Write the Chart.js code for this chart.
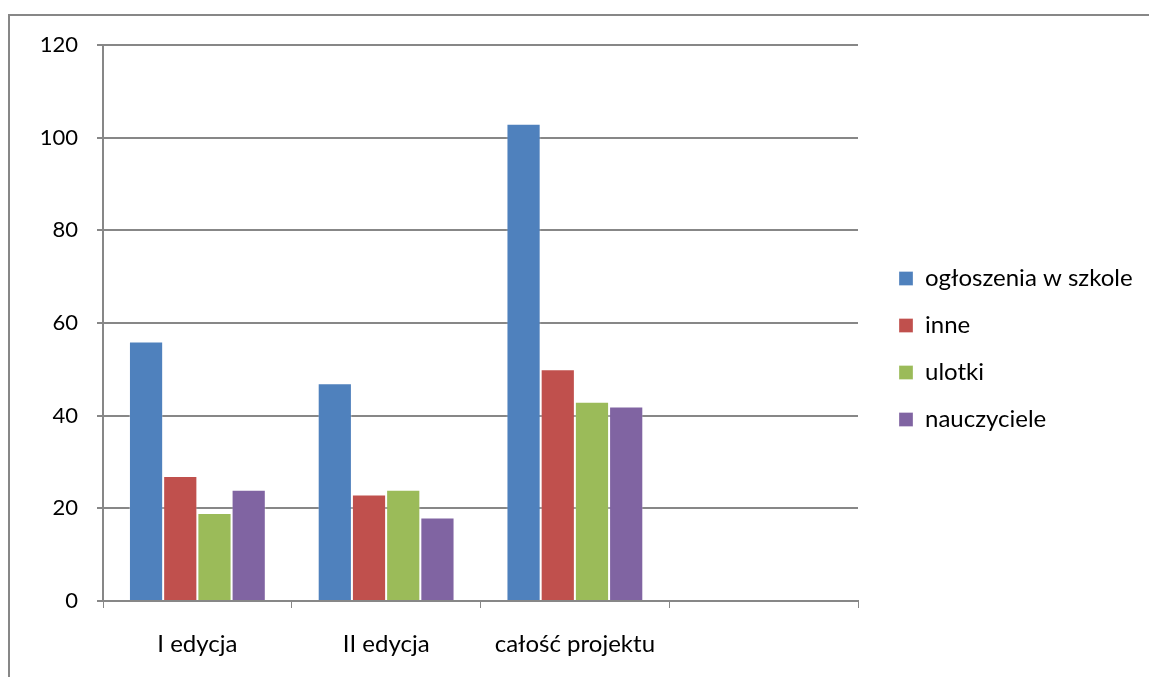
<!DOCTYPE html>
<html>
<head>
<meta charset="utf-8">
<script src="https://cdn.jsdelivr.net/npm/chart.js@4"></script>
<style>
  html, body { margin: 0; padding: 0; background: #fff; overflow: hidden; }
  #wrap { position: relative; width: 1149px; height: 677px; }
  #frame { position: absolute; left: 8px; top: 14px; right: -10px; bottom: -10px;
           border-top: 2px solid #878787; border-left: 2px solid #878787; pointer-events: none; }
  canvas { position: absolute; left: 0; top: 0; }
</style>
</head>
<body>
<div id="wrap">
  <canvas id="chart" width="1149" height="677"></canvas>
  <div id="frame"></div>
</div>
<script>
// categories (4th slot is empty in the original)
const categories = ['I edycja', 'II edycja', 'całość projektu', ''];
const seriesNames = ['ogłoszenia w szkole', 'inne', 'ulotki', 'nauczyciele'];
const ogloszenia = [56, 47, 103, null];
const inne = [27, 23, 50, null];
const ulotki = [19, 24, 43, null];
const nauczyciele = [24, 18, 42, null];
const colors = ['#4F81BD', '#C0504D', '#9BBB59', '#8064A2'];

const gridColor = '#878787';
const family = 'Lato, "Noto Sans", sans-serif';
const numFont = { family: family, size: 22 };
const textFont = { family: family, size: 24 };

// fixed legend width, then nudge it so items sit where the original's do
const legendFix = {
  id: 'legendFix',
  beforeLayout(chart) {
    const lg = chart.legend;
    if (lg && !lg._fixed) {
      const fit = lg.fit;
      lg.fit = function () { fit.call(this); this.width = 291; };
      lg._fixed = true;
    }
  },
  afterLayout(chart) {
    const lg = chart.legend;
    if (lg) {
      lg.left += 18; lg.right += 18;
      lg.top -= 12; lg.bottom -= 12;
    }
  }
};

const ctx = document.getElementById('chart').getContext('2d');
new Chart(ctx, {
  type: 'bar',
  data: {
    labels: categories,
    datasets: [ogloszenia, inne, ulotki, nauczyciele].map((d, i) => ({
      label: seriesNames[i],
      data: d,
      backgroundColor: colors[i],
      borderColor: 'rgba(255,255,255,0.3)',
      borderWidth: 1,
      categoryPercentage: 0.725,
      barPercentage: 1
    }))
  },
  options: {
    responsive: false,
    animation: false,
    layout: { padding: { left: 10, top: 45, bottom: 0, right: 0 } },
    plugins: {
      tooltip: { enabled: false },
      legend: {
        position: 'right',
        labels: {
          boxWidth: 14, boxHeight: 14, padding: 23,
          color: '#000', font: textFont
        }
      }
    },
    scales: {
      x: {
        grid: { drawOnChartArea: false, drawTicks: true, tickLength: 7, color: gridColor, offset: true },
        border: { color: gridColor, width: 2 },
        ticks: { color: '#000', font: textFont, padding: 22 },
        afterFit(s) { s.height = 76; }
      },
      y: {
        min: 0, max: 120,
        ticks: { stepSize: 20, color: '#000', font: numFont, padding: 19 },
        grid: { color: gridColor, lineWidth: 2, tickLength: 6 },
        border: { color: gridColor, width: 2 },
        afterFit(s) { s.width = 93; }
      }
    }
  },
  plugins: [legendFix]
});
</script>
</body>
</html>
